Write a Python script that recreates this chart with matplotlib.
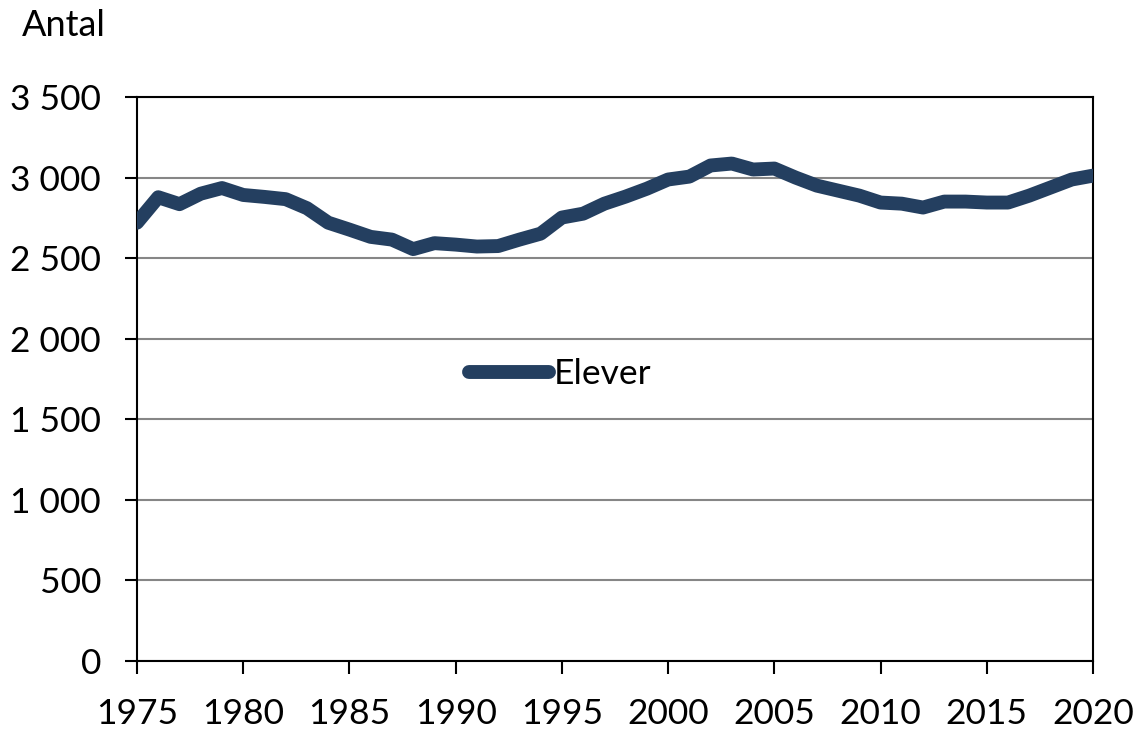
import matplotlib
matplotlib.use("Agg")
import matplotlib.pyplot as plt
from matplotlib.ticker import FuncFormatter

years = list(range(1975, 2021))
elever = [2720, 2878, 2835, 2900, 2935, 2892, 2880, 2866, 2810, 2720,
          2677, 2632, 2615, 2556, 2593, 2584, 2572, 2575, 2615, 2652,
          2752, 2776, 2838, 2882, 2931, 2988, 3006, 3075, 3087, 3050,
          3056, 3000, 2950, 2919, 2888, 2845, 2838, 2814, 2851, 2851,
          2845, 2845, 2888, 2938, 2988, 3012]
yticks = [0, 500, 1000, 1500, 2000, 2500, 3000, 3500]
xticks = list(range(1975, 2021, 5))

plt.rcParams['font.family'] = ['Lato', 'DejaVu Sans']
fig = plt.figure(figsize=(11.42, 7.31), dpi=100)
ax = fig.add_axes([137/1142, 1 - 661/731, (1093-137)/1142, (661-97)/731])

ax.plot(years, elever, color='#243f60', lw=10, solid_capstyle='round',
        solid_joinstyle='round', label='Elever', zorder=3)
ax.set_xlim(1975, 2020)
ax.set_ylim(0, 3500)
ax.set_xticks(xticks)
ax.set_yticks(yticks)
ax.yaxis.set_major_formatter(FuncFormatter(lambda v, p: f"{int(v):,}".replace(",", " ")))
ax.grid(axis='y', color='#868686', lw=1.5)
ax.set_axisbelow(True)
for s in ax.spines.values():
    s.set_color('black')
    s.set_linewidth(1.5)
ax.tick_params(axis='both', direction='out', length=9, width=1.5,
               labelsize=25.5, colors='black')
ax.tick_params(axis='y', pad=17)
ax.tick_params(axis='x', pad=18)
fig.text(22/1142, 1 - 25/731, 'Antal', fontsize=26, va='center', ha='left')
leg = ax.legend(loc='center left', bbox_to_anchor=((469-137)/956, (661-374)/564),
                frameon=False, fontsize=25.5, handlelength=2.26, handletextpad=0.12,
                borderaxespad=0, borderpad=0)
fig.savefig('out.png', dpi=100)
